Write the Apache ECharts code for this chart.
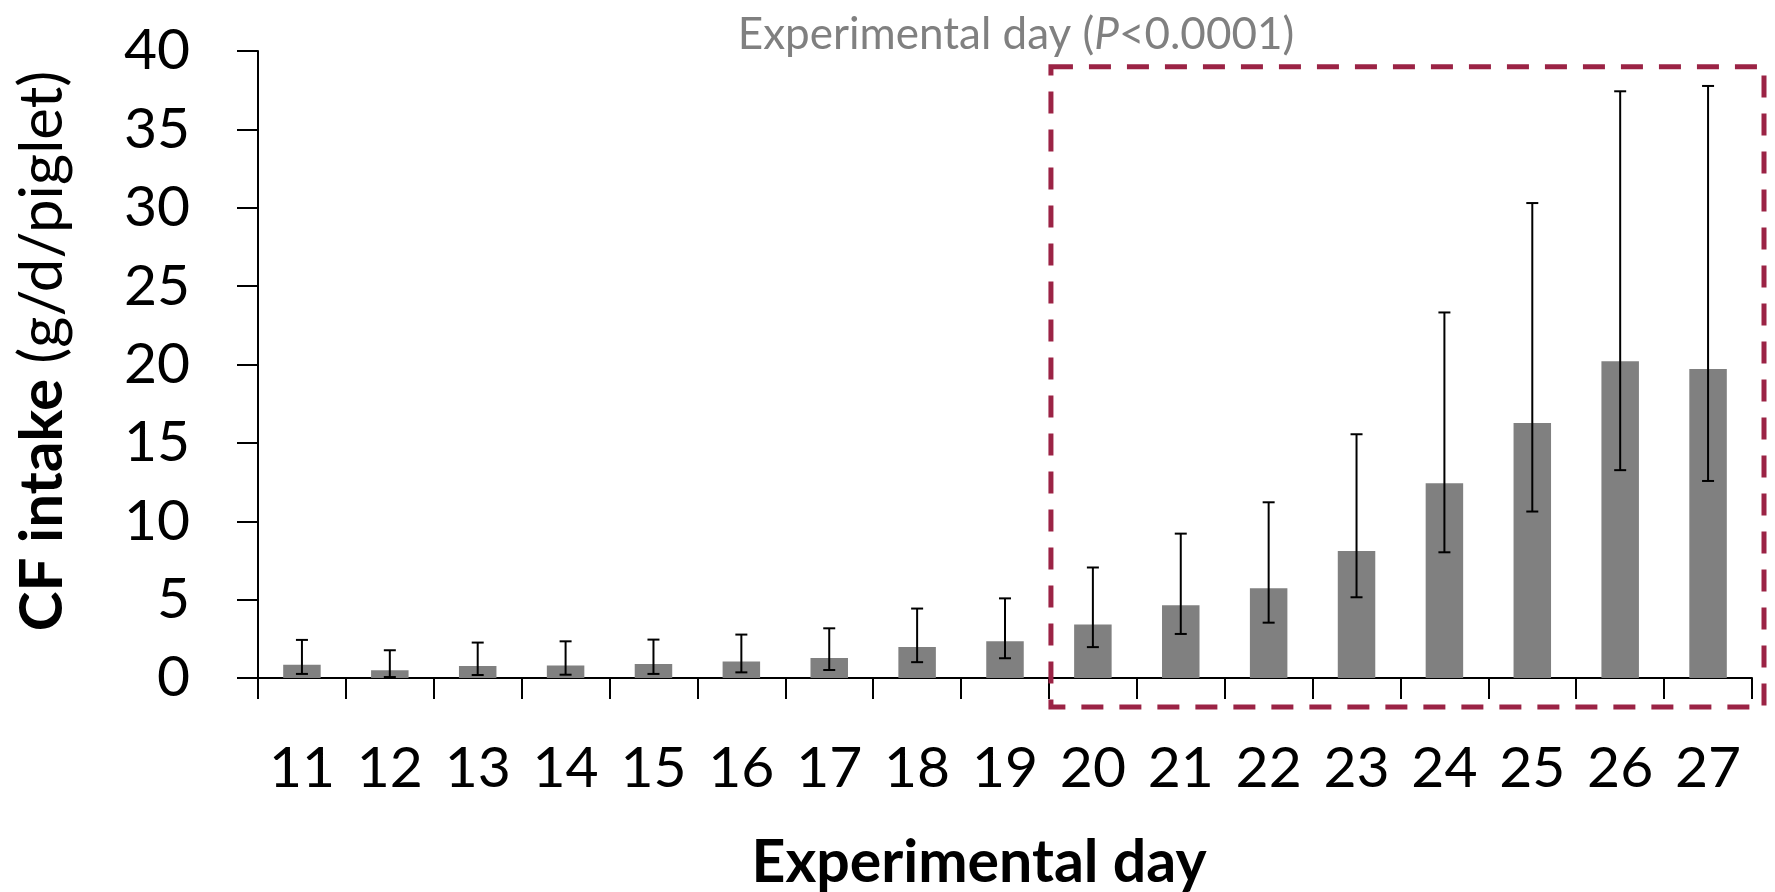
<!DOCTYPE html>
<html>
<head>
<meta charset="utf-8">
<script src="https://cdn.jsdelivr.net/npm/echarts@6/dist/echarts.min.js"></script>
<style>
html,body{margin:0;padding:0;background:#fff;}
#c{width:1775px;height:892px;}
</style>
</head>
<body>
<div id="c"></div>
<script>
const days = ['11','12','13','14','15','16','17','18','19','20','21','22','23','24','25','26','27'];
const meanIntake = [0.85, 0.49, 0.77, 0.80, 0.89, 1.06, 1.28, 1.97, 2.35, 3.42, 4.64, 5.72, 8.11, 12.43, 16.26, 20.21, 19.72];
const errLow = [0.26, 0.06, 0.19, 0.21, 0.26, 0.36, 0.51, 1.01, 1.26, 1.97, 2.81, 3.53, 5.15, 8.02, 10.62, 13.26, 12.57];
const errHigh = [2.43, 1.77, 2.26, 2.34, 2.45, 2.77, 3.17, 4.43, 5.08, 7.05, 9.21, 11.21, 15.55, 23.32, 30.30, 37.43, 37.77];
const yTicks = [0, 5, 10, 15, 20, 25, 30, 35, 40];
const boxFromDay = '20';
const boxTopValue = 39;

const FONT = 'Lato';
const chart = echarts.init(document.getElementById('c'), null, {renderer: 'canvas'});

const errData = days.map((d, i) => [i, errLow[i], errHigh[i]]);

const option = {
  backgroundColor: '#ffffff',
  animation: false,
  title: {
    text: 'Experimental day ({i|P}<0.0001)',
    left: 1011,
    top: 8,
    textAlign: 'center',
    textStyle: {
      fontFamily: FONT, fontSize: 44, fontWeight: 'normal', color: '#808080',
      rich: { i: { fontFamily: FONT, fontSize: 44, fontStyle: 'italic', color: '#808080' } }
    }
  },
  grid: { left: 258, right: 23, top: 51, bottom: 214, outerBoundsMode: 'none', containLabel: false },
  xAxis: {
    type: 'category',
    data: days,
    boundaryGap: true,
    name: 'Experimental day',
    nameLocation: 'middle',
    nameGap: 155,
    nameTextStyle: { fontFamily: FONT, fontSize: 59, fontWeight: 'bold', color: '#000', padding: [0, 52, 0, 0] },
    axisLine: { show: true, lineStyle: { color: '#000', width: 2 } },
    axisTick: { show: true, length: 21, alignWithLabel: false, lineStyle: { color: '#000', width: 2 } },
    axisLabel: { fontFamily: FONT, fontSize: 57, color: '#000', margin: 62, interval: 0 },
    splitLine: { show: false }
  },
  yAxis: {
    type: 'value',
    min: yTicks[0],
    max: yTicks[yTicks.length - 1],
    interval: yTicks[1] - yTicks[0],
    name: '{b|CF intake} (g/d/piglet)',
    nameLocation: 'middle',
    nameGap: 185,
    nameRotate: 90,
    nameTextStyle: {
      fontFamily: FONT, fontSize: 60, color: '#000', padding: [0, 0, 0, 27],
      rich: { b: { fontFamily: FONT, fontSize: 60, fontWeight: 'bold', color: '#000' } }
    },
    axisLine: { show: true, lineStyle: { color: '#000', width: 2 } },
    axisTick: { show: true, length: 21, lineStyle: { color: '#000', width: 2 } },
    axisLabel: { fontFamily: FONT, fontSize: 57, color: '#000', margin: 68 },
    splitLine: { show: false }
  },
  series: [
    {
      type: 'bar',
      data: meanIntake,
      barWidth: 37.5,
      itemStyle: { color: '#808080' },
      z: 2
    },
    {
      type: 'custom',
      data: errData,
      z: 3,
      renderItem: function (params, api) {
        const x = api.value(0);
        const lo = api.coord([x, api.value(1)]);
        const hi = api.coord([x, api.value(2)]);
        const hw = 6;
        const style = { stroke: '#000', lineWidth: 2 };
        return {
          type: 'group',
          children: [
            { type: 'line', shape: { x1: hi[0], y1: hi[1], x2: lo[0], y2: lo[1] }, style: style },
            { type: 'line', shape: { x1: hi[0] - hw, y1: hi[1], x2: hi[0] + hw, y2: hi[1] }, style: style },
            { type: 'line', shape: { x1: lo[0] - hw, y1: lo[1], x2: lo[0] + hw, y2: lo[1] }, style: style }
          ]
        };
      }
    }
  ]
};
chart.setOption(option);

// dashed highlight box derived from the axes
const iFrom = days.indexOf(boxFromDay);
const c1 = chart.convertToPixel({ xAxisIndex: 0 }, days[iFrom - 1]);
const c2 = chart.convertToPixel({ xAxisIndex: 0 }, days[iFrom]);
const boxLeft = (c1 + c2) / 2 + 2;
const boxTop = chart.convertToPixel({ yAxisIndex: 0 }, boxTopValue);
const yZero = chart.convertToPixel({ yAxisIndex: 0 }, 0);
const lastX = chart.convertToPixel({ xAxisIndex: 0 }, days[days.length - 1]);
const step = c2 - c1;
const boxRight = lastX + step / 2 + 12;
const boxBottom = yZero + 29;
chart.setOption({
  graphic: [{
    type: 'rect',
    z: 10,
    shape: { x: boxLeft, y: boxTop, width: boxRight - boxLeft, height: boxBottom - boxTop },
    style: { fill: 'none', stroke: '#9B2345', lineWidth: 5, lineDash: [22, 16] }
  }]
});
</script>
</body>
</html>
